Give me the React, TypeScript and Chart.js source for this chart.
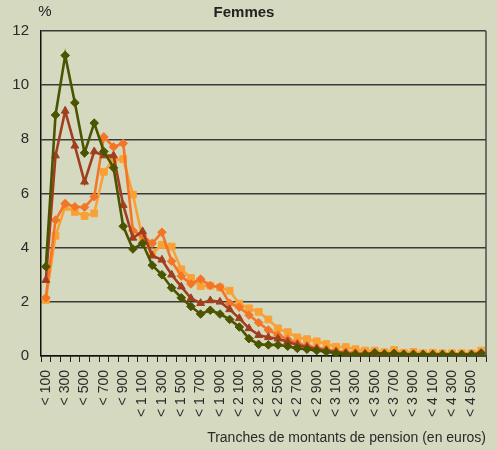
import React, { useEffect, useRef } from "react";
import { Chart, registerables } from "chart.js";

Chart.register(...registerables);

const categories: string[] = [
  "< 100", "< 200", "< 300", "< 400", "< 500", "< 600", "< 700", "< 800", "< 900", "< 1 000",
  "< 1 100", "< 1 200", "< 1 300", "< 1 400", "< 1 500", "< 1 600", "< 1 700", "< 1 800", "< 1 900", "< 2 000",
  "< 2 100", "< 2 200", "< 2 300", "< 2 400", "< 2 500", "< 2 600", "< 2 700", "< 2 800", "< 2 900", "< 3 000",
  "< 3 100", "< 3 200", "< 3 300", "< 3 400", "< 3 500", "< 3 600", "< 3 700", "< 3 800", "< 3 900", "< 4 000",
  "< 4 100", "< 4 200", "< 4 300", "< 4 400", "< 4 500", "< 4 600",
];

const seriesGreen: number[] = [
  3.3, 8.9, 11.1, 9.35, 7.5, 8.6, 7.55, 6.95, 4.79, 3.95,
  4.16, 3.35, 3.0, 2.52, 2.15, 1.83, 1.55, 1.69, 1.55, 1.35,
  1.07, 0.64, 0.43, 0.41, 0.41, 0.36, 0.28, 0.25, 0.2, 0.16,
  0.1, 0.06, 0.06, 0.05, 0.12, 0.07, 0.1, 0.06, 0.06, 0.05,
  0.05, 0.05, 0.05, 0.05, 0.05, 0.1,
];

const seriesBrown: number[] = [
  2.8, 7.4, 9.05, 7.76, 6.43, 7.55, 7.4, 7.4, 5.57, 4.36,
  4.6, 3.7, 3.55, 3.0, 2.56, 2.13, 1.95, 2.05, 2.0, 1.72,
  1.39, 1.02, 0.77, 0.69, 0.64, 0.53, 0.41, 0.33, 0.26, 0.2,
  0.15, 0.1, 0.08, 0.07, 0.07, 0.06, 0.06, 0.05, 0.05, 0.05,
  0.05, 0.05, 0.05, 0.05, 0.05, 0.08,
];

const seriesOrange: number[] = [
  2.15, 5.02, 5.63, 5.51, 5.49, 5.88, 8.09, 7.72, 7.85, 4.63,
  4.45, 4.16, 4.57, 3.5, 2.95, 2.66, 2.84, 2.6, 2.55, 1.95,
  1.8, 1.51, 1.23, 0.96, 0.77, 0.62, 0.47, 0.38, 0.3, 0.24,
  0.18, 0.14, 0.12, 0.1, 0.1, 0.08, 0.1, 0.08, 0.07, 0.07,
  0.07, 0.07, 0.07, 0.07, 0.07, 0.12,
];

const seriesLight: number[] = [
  2.07, 4.44, 5.51, 5.32, 5.17, 5.27, 6.8, 7.25, 7.27, 5.96,
  4.34, 3.79, 4.1, 4.04, 3.2, 2.88, 2.58, 2.6, 2.53, 2.41,
  1.93, 1.76, 1.63, 1.35, 1.02, 0.88, 0.69, 0.62, 0.54, 0.44,
  0.34, 0.33, 0.25, 0.2, 0.2, 0.14, 0.22, 0.12, 0.15, 0.1,
  0.12, 0.1, 0.1, 0.1, 0.1, 0.2,
];

const yTicks: number[] = [0, 2, 4, 6, 8, 10, 12];

const chartTitle = "Femmes";
const yUnit = "%";
const xTitle = "Tranches de montants de pension (en euros)";

const FONT = '"Liberation Sans", Arial, sans-serif';

export default function App() {
  const canvasRef = useRef<HTMLCanvasElement | null>(null);

  useEffect(() => {
    document.body.style.margin = "0";
    const canvas = canvasRef.current;
    if (!canvas) return;

    const decor = {
      id: "decor",
      afterDraw(chart: any) {
        const { ctx, chartArea } = chart;
        ctx.save();
        ctx.strokeStyle = "#4a4a4a";
        ctx.lineWidth = 1.5;
        ctx.beginPath();
        ctx.moveTo(chartArea.right, chartArea.top);
        ctx.lineTo(chartArea.right, chartArea.bottom);
        ctx.stroke();
        ctx.fillStyle = "#222";
        ctx.textAlign = "center";
        ctx.textBaseline = "middle";
        ctx.font = `bold 15px ${FONT}`;
        ctx.fillText(chartTitle, 244, 13);
        ctx.font = `15px ${FONT}`;
        ctx.fillText(yUnit, 45, 12);
        ctx.restore();
      },
    };

    const mk = (label: string, data: number[], color: string, style: string, r: number) => ({
      label,
      data,
      borderColor: color,
      backgroundColor: color,
      borderWidth: 2.6,
      pointStyle: style,
      pointRadius: r,
      pointBorderWidth: 1,
      pointBackgroundColor: color,
      pointBorderColor: color,
      tension: 0,
      fill: false,
    });

    const chart = new Chart(canvas, {
      type: "line",
      data: {
        labels: categories,
        datasets: [
          mk("Série 1", seriesGreen, "#4b5400", "rectRot", 4.3),
          mk("Série 2", seriesBrown, "#a03e20", "triangle", 4.5),
          mk("Série 3", seriesOrange, "#f37626", "rectRot", 4.3),
          mk("Série 4", seriesLight, "#faa136", "rect", 4.8),
        ],
      },
      options: {
        animation: false,
        responsive: false,
        maintainAspectRatio: false,
        layout: { padding: { top: 31, right: 11, left: 0, bottom: 0 } },
        plugins: {
          legend: { display: false },
          tooltip: { enabled: false },
          title: { display: false },
        },
        scales: {
          x: {
            type: "category",
            offset: true,
            grid: {
              offset: true,
              drawOnChartArea: false,
              drawTicks: true,
              tickLength: 6,
              color: "#222",
              lineWidth: 1,
            },
            border: { display: true, color: "#111", width: 1.5 },
            ticks: {
              autoSkip: false,
              maxRotation: 90,
              minRotation: 90,
              padding: 8,
              color: "#2a2a2a",
              font: { family: FONT, size: 14 },
              callback: (_v: any, i: number) => (i % 2 === 0 && i < categories.length - 1 ? categories[i] : ""),
            },
            title: {
              display: true,
              text: xTitle,
              align: "end",
              color: "#2a2a2a",
              font: { family: FONT, size: 14 },
              padding: { top: 0, bottom: 3 },
            },
            afterFit: (s: any) => {
              s.height = 94;
              s.paddingLeft = 0;
              s.paddingRight = 0;
            },
          },
          y: {
            min: 0,
            max: 12,
            afterBuildTicks: (s: any) => {
              s.ticks = yTicks.map((v) => ({ value: v }));
            },
            grid: {
              drawTicks: false,
              color: "#3a3a3a",
              lineWidth: 1.5,
            },
            border: { display: true, color: "#111", width: 1.5 },
            ticks: {
              padding: 12,
              color: "#2a2a2a",
              font: { family: FONT, size: 15 },
            },
            afterFit: (s: any) => {
              s.width = 41;
              s.paddingTop = 0;
              s.paddingBottom = 0;
            },
          },
        },
      },
      plugins: [decor],
    } as any);

    return () => chart.destroy();
  }, []);

  return (
    <div style={{ width: 497, height: 450, background: "#d5d9bf", position: "relative" }}>
      <canvas ref={canvasRef} width={497} height={450} style={{ display: "block" }} />
    </div>
  );
}
